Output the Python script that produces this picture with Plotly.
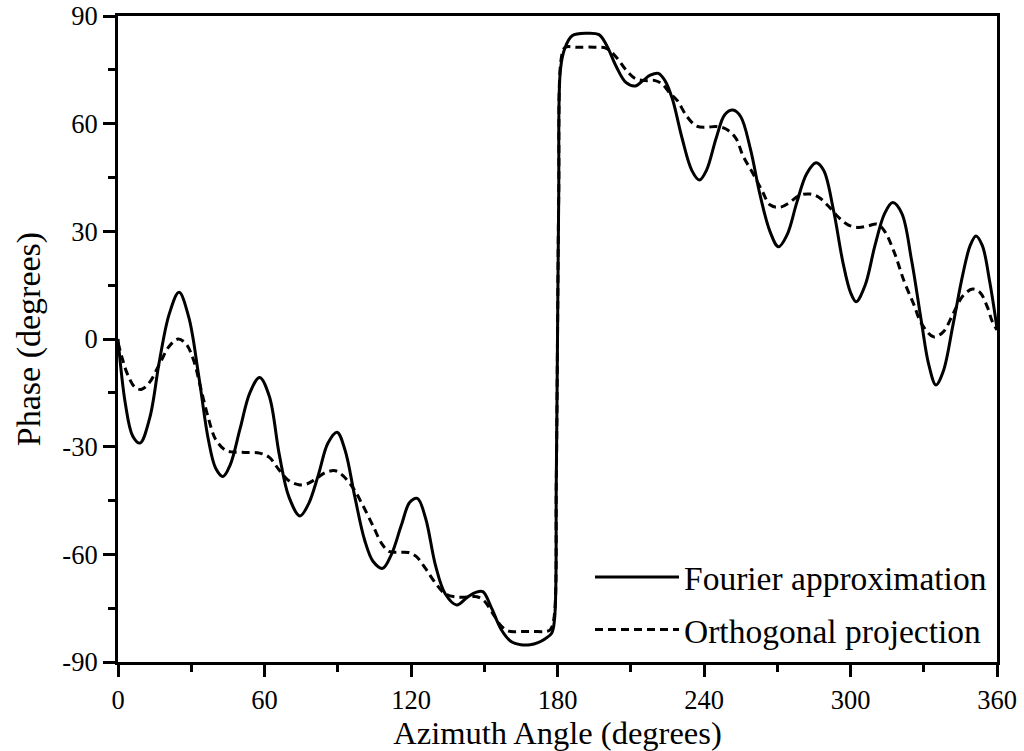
import plotly.graph_objects as go

# Fourier approximation (solid)
fourier_deg = [0, 3, 6, 9, 13, 17, 21, 25, 29, 33, 37, 40, 43, 46, 50, 54, 58, 62, 66, 70,
               74.5, 78, 82, 86, 89.7, 93, 97, 101, 104.5, 108.4, 112, 116, 119.5, 122.6, 126,
               130, 134, 138.7, 143, 146.5, 149.4, 153, 157, 161, 165, 168.8, 172, 175, 177.6,
               178.8, 179.5, 180, 180.5, 181.2, 183, 186, 192, 197, 200, 204, 208, 211.8, 215,
               218, 221.3, 224, 227, 231, 235, 238.1, 241, 245, 248.5, 251.8, 255, 259, 263,
               267, 270.5, 274, 278, 282, 285.9, 289, 293, 297, 300, 302.3, 306, 310, 314,
               317.3, 321, 325, 329, 332, 335, 338, 342, 346, 349, 351.4, 354, 357, 360]
fourier_val = [0, -18, -27, -29, -22, -6, 7, 13, 6, -10, -28, -36, -38.3, -35, -25, -15, -10.7,
               -16, -32, -44, -49.3, -46, -38, -29, -26, -31, -44, -56, -62, -63.9, -60, -52,
               -45.5, -44.4, -50, -63, -71, -74.1, -72, -70.6, -70.4, -75, -81, -84.3, -85.2,
               -85.2, -84.6, -83.5, -82, -78, -40, 0, 40, 75, 81, 84.5, 85.2, 84.8, 82, 76,
               71.5, 70.5, 72, 73.5, 74, 72, 67, 56, 47, 44.3, 47, 56, 62.5, 63.8, 62, 53, 40,
               30, 25.7, 29, 38, 46, 49.1, 47, 36, 21, 13, 10.4, 15, 26, 35, 38, 35, 22, 5, -7,
               -12.8, -9, 4, 18, 26, 28.7, 26, 16, 3]

# Orthogonal projection (dashed)
ortho_deg = [0, 2, 4, 7, 9.7, 13, 17, 21, 24.7, 28, 31, 34, 37, 40, 44, 47, 52, 58, 62, 66, 70,
             74, 77.3, 81, 85, 89, 92, 96.4, 100, 104.6, 108, 111, 115, 119, 122, 126, 130, 134,
             138.7, 143, 147, 150, 154, 157, 160, 165, 170, 175, 177, 178.5, 179.5, 180, 180.5,
             181.5, 183, 188, 195, 200, 204, 208, 212, 216, 220, 223, 226, 229, 233, 237, 241,
             245, 249, 253, 256, 260, 264, 267, 271, 275, 279, 283.4, 287, 291, 295, 299, 303,
             307, 311, 314, 318, 322, 326, 329, 334, 338, 342, 346, 350, 353, 356, 358, 360]
ortho_val = [-1, -6, -10, -13.5, -14, -12, -7, -2, 0, -1.5, -6, -14, -22, -28, -31, -31.5, -31.6,
             -31.8, -33, -36.5, -39.5, -40.6, -40.4, -39, -37.2, -36.7, -38, -41.6, -46, -52.3,
             -57, -59.2, -59.4, -59.5, -60.5, -64, -68, -71, -71.9, -71.9, -71.8, -73, -77, -80,
             -81.4, -81.5, -81.5, -81.5, -81, -78, -40, 0, 40, 78, 81.2, 81.3, 81.3, 81, 78.6,
             75, 72.5, 72, 72, 71, 68.5, 66.5, 62, 59.3, 59, 59.2, 58.5, 56, 51, 46.2, 41, 37.4,
             36.7, 38, 40, 40.4, 39.5, 37, 34, 31.8, 31.1, 31.5, 32, 30, 24, 16, 9.5, 4.4, 0.6,
             2, 7, 12, 13.9, 13, 9, 5, 2.5]

x_ticks = [0, 60, 120, 180, 240, 300, 360]
y_ticks = [-90, -60, -30, 0, 30, 60, 90]

FONT = "Liberation Serif"

fig = go.Figure()
fig.add_trace(go.Scatter(x=fourier_deg, y=fourier_val, mode="lines", name="Fourier approximation",
                         legendgroup="a",
                         line=dict(color="black", width=3, shape="spline", smoothing=1.0)))
fig.add_trace(go.Scatter(x=ortho_deg, y=ortho_val, mode="lines", name="Orthogonal projection",
                         legendgroup="b",
                         line=dict(color="black", width=3, dash="8px,5px", shape="spline", smoothing=1.0)))

axis_common = dict(showgrid=False, zeroline=False, showline=True, linecolor="black", linewidth=3,
                   mirror=True, ticks="outside", ticklen=12, tickwidth=3, tickcolor="black",
                   automargin=False,
                   tickfont=dict(family=FONT, size=26.5, color="black"))

fig.update_xaxes(range=[0, 360], tickvals=x_ticks, ticktext=[str(v) for v in x_ticks],
                 minor=dict(dtick=30, tick0=0, ticks="outside", ticklen=7, tickwidth=3, tickcolor="black"),
                 title=dict(text="Azimuth Angle (degrees)", font=dict(family=FONT, size=32.5, color="black"),
                            standoff=9),
                 **axis_common)
fig.update_yaxes(range=[-90, 90], tickvals=y_ticks, ticktext=[str(v) for v in y_ticks],
                 minor=dict(dtick=15, tick0=0, ticks="outside", ticklen=7, tickwidth=3, tickcolor="black"),
                 title=dict(text="Phase (degrees)", font=dict(family=FONT, size=34, color="black"),
                            standoff=12),
                 **axis_common)

fig.update_layout(
    width=1024, height=751,
    margin=dict(l=118, r=27, t=16, b=89),
    paper_bgcolor="white", plot_bgcolor="white",
    showlegend=True,
    legend=dict(x=0.537, y=0.005, xanchor="left", yanchor="bottom", bgcolor="rgba(0,0,0,0)",
                font=dict(family=FONT, size=33.5, color="black"), itemwidth=84,
                tracegroupgap=6, traceorder="grouped"),
)

fig.write_html("out.html")
